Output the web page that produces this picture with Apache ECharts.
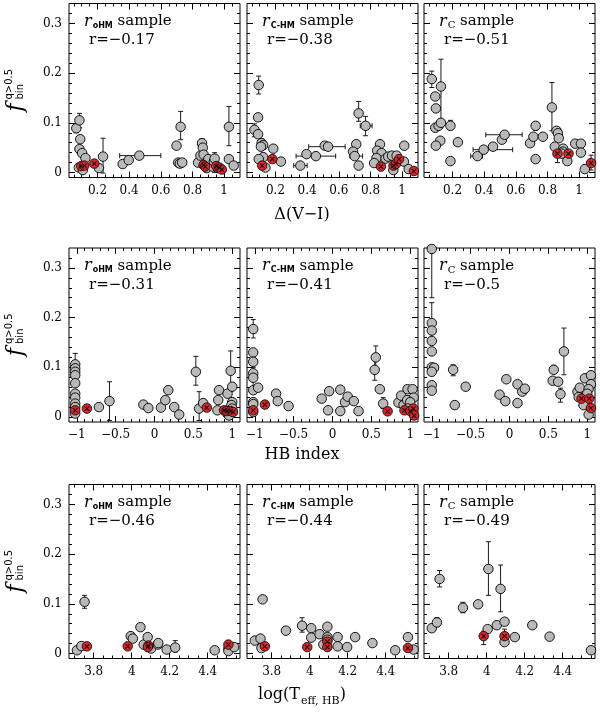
<!DOCTYPE html>
<html><head><meta charset="utf-8">
<script src="https://cdn.jsdelivr.net/npm/echarts/dist/echarts.min.js"></script>
<style>html,body{margin:0;padding:0;background:#fff}#c{width:600px;height:719px}</style>
</head><body><div id="c"></div>
<script>
// ---------- tick labels ----------
const yTicks = [0, 0.1, 0.2, 0.3];
const xTicksDV = [0.2, 0.4, 0.6, 0.8, 1];
const xTicksHB = [-1, -0.5, 0, 0.5, 1];
const xTicksT = [3.8, 4, 4.2, 4.4];
const sampleSubs = ['oHM', 'C-HM', 'C'];
const rValues = ['−0.17', '−0.38', '−0.51', '−0.31', '−0.41', '−0.5', '−0.46', '−0.44', '−0.49'];
const xTitles = ['Δ(V−I)', 'HB index', 'log(T_eff, HB)'];

// ---------- Row 1 : Delta(V-I) ----------
const gray1 = [[0.066,0.089],[0.086,0.105],[0.091,0.067],[0.086,0.047],[0.103,0.039],[0.124,0.029],[0.082,0.010],[0.107,0.005],[0.209,0.009],[0.235,0.032],[0.359,0.017],[0.397,0.025],[0.464,0.034],[0.699,0.054],[0.725,0.092],[0.71,0.020],[0.72,0.018],[0.735,0.020],[0.835,0.020],[0.85,0.034],[0.86,0.059],[0.865,0.050],[0.87,0.036],[0.90,0.027],[0.89,0.009],[0.925,0.012],[0.935,0.022],[0.96,0.009],[1.03,0.092],[1.03,0.027],[1.06,0.014],[0.94,0.028]];
const red1 = [[0.097,0.013],[0.117,0.014],[0.18,0.018],[0.87,0.015],[0.88,0.012],[0.95,0.013],[0.97,0.010],[0.985,0.006]];
const errY1 = [[0.086,0.105,0.090,0.119],[0.066,0.089,0.080,0.098],[0.235,0.032,-0.001,0.069],[0.725,0.092,0.066,0.123],[0.86,0.059,0.050,0.068],[1.03,0.092,0.054,0.133],[0.94,0.028,0.0,0.040]];
const errX1 = [[0.464,0.034,0.34,0.60],[0.72,0.020,0.69,0.76]];

const gray2 = [[0.094,0.176],[0.090,0.111],[0.067,0.086],[0.09,0.077],[0.112,0.059],[0.122,0.055],[0.108,0.052],[0.186,0.048],[0.122,0.031],[0.094,0.027],[0.136,0.010],[0.234,0.022],[0.357,0.014],[0.396,0.037],[0.455,0.033],[0.511,0.054],[0.532,0.052],[0.725,0.119],[0.769,0.094],[0.71,0.057],[0.69,0.042],[0.70,0.033],[0.725,0.014],[0.86,0.057],[0.842,0.044],[0.87,0.039],[0.838,0.029],[0.823,0.019],[0.895,0.028],[0.912,0.032],[0.936,0.034],[0.965,0.034],[1.013,0.054],[1.011,0.022],[1.041,0.007],[0.944,0.005]];
const red2 = [[0.116,0.014],[0.18,0.027],[0.866,0.012],[0.945,0.014],[0.96,0.017],[0.98,0.027],[1.074,0.003]];
const errY2 = [[0.094,0.176,0.158,0.194],[0.067,0.086,0.072,0.098],[0.112,0.059,0.048,0.068],[0.725,0.119,0.103,0.143],[0.769,0.094,0.074,0.113]];
const errX2 = [[0.357,0.014,0.315,0.40],[0.455,0.033,0.33,0.58],[0.532,0.052,0.41,0.64],[0.769,0.094,0.735,0.81],[0.70,0.033,0.67,0.75]];

const gray3 = [[0.069,0.188],[0.127,0.173],[0.091,0.153],[0.095,0.129],[0.091,0.090],[0.112,0.094],[0.127,0.100],[0.187,0.094],[0.123,0.064],[0.095,0.054],[0.234,0.061],[0.187,0.023],[0.358,0.033],[0.397,0.046],[0.456,0.052],[0.512,0.066],[0.529,0.076],[0.69,0.059],[0.711,0.072],[0.725,0.094],[0.771,0.072],[0.725,0.027],[0.828,0.131],[0.857,0.084],[0.866,0.079],[0.871,0.069],[0.846,0.052],[0.899,0.048],[0.897,0.042],[0.889,0.038],[0.925,0.023],[0.975,0.058],[1.011,0.058],[1.011,0.040],[1.036,0.007]];
const red3 = [[0.863,0.038],[0.933,0.038],[1.075,0.019]];
const errY3 = [[0.069,0.188,0.171,0.204],[0.127,0.173,0.100,0.228],[0.187,0.094,0.086,0.105],[0.725,0.094,0.085,0.102],[0.828,0.131,0.084,0.181],[0.863,0.038,0.020,0.048],[1.075,0.019,0.005,0.035]];
const errX3 = [[0.358,0.033,0.315,0.39],[0.397,0.046,0.33,0.58],[0.529,0.076,0.41,0.64],[0.828,0.131,0.81,0.85]];

// ---------- Row 2 : HB index ----------
const gray4 = [[-1.02,0.106],[-1.02,0.098],[-1.02,0.091],[-1.02,0.084],[-1.02,0.068],[-1.02,0.047],[-1.02,0.039],[-1.02,0.027],[-1.02,0.020],[-1.02,0.007],[-0.715,0.020],[-0.579,0.032],[-0.143,0.025],[-0.079,0.018],[0.083,0.019],[0.139,0.034],[0.177,0.054],[0.254,0.020],[0.318,0.005],[0.532,0.091],[0.574,0.017],[0.626,0.028],[0.81,0.0135],[0.83,0.054],[0.82,0.034],[0.94,0.047],[0.98,0.093],[1.0,0.061],[1.0,0.030],[0.99,0.024],[1.0,0.017],[0.97,0.010],[0.94,0.006],[0.96,0.003]];
const red4 = [[-1.02,0.0135],[-0.87,0.017],[0.673,0.019],[0.895,0.0135],[0.93,0.012],[0.98,0.012],[1.01,0.010]];
const errY4 = [[-1.02,0.106,0.085,0.128],[-0.579,0.032,-0.007,0.071],[0.532,0.091,0.064,0.122],[0.574,0.017,-0.007,0.051],[0.98,0.093,0.051,0.133]];
const errX4 = [];

const gray5 = [[-1.02,0.177],[-1.02,0.130],[-1.02,0.111],[-1.02,0.088],[-1.02,0.079],[-1.02,0.054],[-0.957,0.059],[-1.02,0.030],[-1.02,0.026],[-1.02,0.010],[-0.726,0.047],[-0.704,0.032],[-0.565,0.022],[-0.139,0.037],[-0.043,0.052],[-0.057,0.0135],[0.1,0.055],[0.1,0.012],[0.161,0.030],[0.196,0.041],[0.274,0.032],[0.335,0.012],[0.557,0.120],[0.543,0.095],[0.609,0.056],[0.652,0.027],[0.848,0.029],[0.883,0.043],[0.913,0.024],[0.965,0.056],[1.03,0.056],[1.044,0.039],[0.96,0.034],[1.0,0.030],[0.97,0.017]];
const red5 = [[-1.02,0.0135],[-0.87,0.025],[0.709,0.0115],[0.926,0.0135],[1.0,0.012],[1.04,0.017],[1.05,0.003]];
const errY5 = [[-1.02,0.177,0.159,0.196],[-1.02,0.079,0.060,0.100],[0.557,0.120,0.097,0.143],[0.543,0.095,0.074,0.117],[0.652,0.027,0.017,0.039]];
const errX5 = [];

const gray6 = [[-1.0,0.338],[-1.0,0.189],[-1.0,0.174],[-1.0,0.153],[-1.0,0.132],[-1.0,0.100],[-0.97,0.099],[-1.0,0.091],[-1.0,0.064],[-1.0,0.053],[-0.725,0.095],[-0.704,0.024],[-0.564,0.061],[-0.128,0.045],[-0.041,0.076],[-0.054,0.032],[0.103,0.066],[0.103,0.028],[0.164,0.051],[0.198,0.057],[0.569,0.095],[0.556,0.073],[0.626,0.071],[0.70,0.132],[0.656,0.046],[0.874,0.051],[0.904,0.059],[0.97,0.078],[1.048,0.084],[1.048,0.066],[1.018,0.056],[1.0,0.047],[0.952,0.024],[1.018,0.005],[0.89,0.040]];
const red6 = [[0.926,0.037],[1.026,0.037],[1.048,0.018]];
const errY6 = [[-1.0,0.338,0.240,0.338],[-1.0,0.189,0.150,0.230],[-0.725,0.095,0.083,0.105],[0.569,0.095,0.088,0.104],[0.70,0.132,0.085,0.179],[0.656,0.046,0.030,0.058],[1.048,0.084,0.072,0.092]];
const errX6 = [];

// ---------- Row 3 : log(Teff,HB) ----------
const gray7 = [[3.712,0.0066],[3.735,0.015],[3.752,0.104],[3.995,0.035],[4.006,0.030],[4.046,0.053],[4.063,0.018],[4.084,0.033],[4.102,0.010],[4.137,0.018],[4.140,0.021],[4.184,0.008],[4.229,0.012],[4.437,0.0066],[4.509,0.010],[4.509,0.005],[4.539,0.013]];
const red7 = [[3.764,0.0145],[3.979,0.0145],[4.088,0.016],[4.085,0.013],[4.509,0.018]];
const errY7 = [[3.752,0.104,0.091,0.117],[4.0,0.035,0.028,0.041],[4.229,0.012,0.003,0.026]];
const errX7 = [];

const gray8 = [[3.711,0.026],[3.741,0.030],[3.746,0.011],[3.752,0.109],[3.875,0.046],[3.96,0.056],[4.008,0.051],[4.008,0.032],[4.052,0.039],[4.072,0.018],[4.093,0.054],[4.093,0.033],[4.093,0.028],[4.147,0.033],[4.147,0.0145],[4.197,0.013],[4.239,0.033],[4.33,0.021],[4.45,0.0066],[4.517,0.033],[4.547,0.008]];
const red8 = [[3.764,0.0145],[3.987,0.013],[4.093,0.024],[4.093,0.013],[4.517,0.011]];
const errY8 = [[3.96,0.056,0.043,0.072]];
const errX8 = [];

const gray9 = [[3.711,0.051],[3.738,0.0625],[3.752,0.15],[3.875,0.092],[3.955,0.099],[4.005,0.049],[4.009,0.170],[4.053,0.057],[4.073,0.130],[4.094,0.064],[4.094,0.023],[4.148,0.033],[4.24,0.057],[4.331,0.034],[4.549,0.0066]];
const red9 = [[3.984,0.035],[4.094,0.035]];
const errY9 = [[3.738,0.0625,0.054,0.072],[3.752,0.15,0.134,0.167],[3.875,0.092,0.082,0.103],[3.984,0.035,0.018,0.045],[4.005,0.049,0.043,0.055],[4.009,0.170,0.117,0.225],[4.073,0.130,0.084,0.178],[4.094,0.035,0.026,0.049]];
const errX9 = [];

// ---------- layout ----------
const COL_LEFT = [69, 247, 424];
const ROW_TOP = [3.5, 248, 484.5];
const PW = 171, PH = 174;
const X_RANGES = [[0.02, 1.1], [-1.1, 1.1], [3.67, 4.57]];
const X_MINOR = [0.05, 0.1, 0.05];
const X_MAJOR = [xTicksDV, xTicksHB, xTicksT];
const Y_RANGE = [-0.01, 0.34];
const Y_MINOR = 0.02;
const SERIF = 'DejaVu Serif';

const panels = [
  [gray1, red1, errY1, errX1], [gray2, red2, errY2, errX2], [gray3, red3, errY3, errX3],
  [gray4, red4, errY4, errX4], [gray5, red5, errY5, errX5], [gray6, red6, errY6, errX6],
  [gray7, red7, errY7, errX7], [gray8, red8, errY8, errX8], [gray9, red9, errY9, errX9]
];

function stepVals(mn, mx, step, major) {
  const out = [];
  const k0 = Math.ceil(mn / step - 1e-9), k1 = Math.floor(mx / step + 1e-9);
  for (let k = k0; k <= k1; k++) {
    const v = +(k * step).toFixed(5);
    if (Math.abs(v - mn) < 1e-6 || Math.abs(v - mx) < 1e-6) continue;
    if (major.some(m => Math.abs(m - v) < 1e-6)) continue;
    out.push(v);
  }
  return out;
}
const fmt = v => String(+v.toFixed(3)).replace('-', '−');

const grids = [], xAxes = [], yAxes = [], series = [], graphics = [];

function vErr(params, api) {
  const x = api.value(0), lo = api.value(2), hi = api.value(3);
  const a = api.coord([x, lo]), b = api.coord([x, hi]);
  const c = 2.5, st = {stroke: '#1a1a1a', lineWidth: 1};
  return {type: 'group', children: [
    {type: 'line', shape: {x1: a[0], y1: a[1], x2: b[0], y2: b[1]}, style: st},
    {type: 'line', shape: {x1: a[0] - c, y1: a[1], x2: a[0] + c, y2: a[1]}, style: st},
    {type: 'line', shape: {x1: b[0] - c, y1: b[1], x2: b[0] + c, y2: b[1]}, style: st}
  ]};
}
function hErr(params, api) {
  const y = api.value(1), lo = api.value(2), hi = api.value(3);
  const a = api.coord([lo, y]), b = api.coord([hi, y]);
  const c = 2.5, st = {stroke: '#1a1a1a', lineWidth: 1};
  return {type: 'group', children: [
    {type: 'line', shape: {x1: a[0], y1: a[1], x2: b[0], y2: b[1]}, style: st},
    {type: 'line', shape: {x1: a[0], y1: a[1] - c, x2: a[0], y2: a[1] + c}, style: st},
    {type: 'line', shape: {x1: b[0], y1: b[1] - c, x2: b[0], y2: b[1] + c}, style: st}
  ]};
}

const tickStyle = {color: '#000', width: 1};
const noLine = {show: false, onZero: false};
for (let r = 0; r < 3; r++) {
  for (let c = 0; c < 3; c++) {
    const g = r * 3 + c;
    grids.push({left: COL_LEFT[c], top: ROW_TOP[r], width: PW, height: PH, show: true,
      borderColor: '#000', borderWidth: 1, backgroundColor: 'rgba(0,0,0,0)'});
    const [mn, mx] = X_RANGES[r];
    const xMaj = X_MAJOR[r];
    const xMin = stepVals(mn, mx, X_MINOR[r], xMaj);
    const xb = {type: 'value', gridIndex: g, min: mn, max: mx, axisLine: noLine, splitLine: {show: false}};
    xAxes.push(
      Object.assign({}, xb, {position: 'bottom', axisTick: {show: true, inside: true, length: 6, customValues: xMaj, lineStyle: tickStyle},
        axisLabel: {show: true, customValues: xMaj, margin: 7, fontFamily: SERIF, fontSize: 12, color: '#000', formatter: fmt}}),
      Object.assign({}, xb, {position: 'bottom', axisTick: {show: true, inside: true, length: 3, customValues: xMin, lineStyle: tickStyle}, axisLabel: {show: false}}),
      Object.assign({}, xb, {position: 'top', axisTick: {show: true, inside: true, length: 6, customValues: xMaj, lineStyle: tickStyle}, axisLabel: {show: false}}),
      Object.assign({}, xb, {position: 'top', axisTick: {show: true, inside: true, length: 3, customValues: xMin, lineStyle: tickStyle}, axisLabel: {show: false}})
    );
    const yMin = stepVals(Y_RANGE[0], Y_RANGE[1], Y_MINOR, yTicks);
    const yb = {type: 'value', gridIndex: g, min: Y_RANGE[0], max: Y_RANGE[1], axisLine: noLine, splitLine: {show: false}};
    yAxes.push(
      Object.assign({}, yb, {position: 'left', axisTick: {show: true, inside: true, length: 6, customValues: yTicks, lineStyle: tickStyle},
        axisLabel: {show: c === 0, customValues: yTicks, margin: 7, fontFamily: SERIF, fontSize: 12, color: '#000', formatter: fmt}}),
      Object.assign({}, yb, {position: 'left', axisTick: {show: true, inside: true, length: 3, customValues: yMin, lineStyle: tickStyle}, axisLabel: {show: false}}),
      Object.assign({}, yb, {position: 'right', axisTick: {show: true, inside: true, length: 6, customValues: yTicks, lineStyle: tickStyle}, axisLabel: {show: false}}),
      Object.assign({}, yb, {position: 'right', axisTick: {show: true, inside: true, length: 3, customValues: yMin, lineStyle: tickStyle}, axisLabel: {show: false}})
    );
    const [gray, red, eY, eX] = panels[g];
    const ax = {xAxisIndex: g * 4, yAxisIndex: g * 4};
    series.push(
      Object.assign({type: 'custom', data: eY, renderItem: vErr, z: 2, silent: true}, ax),
      Object.assign({type: 'custom', data: eX, renderItem: hErr, z: 2, silent: true}, ax),
      Object.assign({type: 'scatter', data: gray, symbolSize: 9.5, z: 3, silent: true,
        itemStyle: {color: '#b9b9b9', borderColor: '#000', borderWidth: 0.9, opacity: 1}}, ax),
      Object.assign({type: 'scatter', data: red, symbolSize: 9.5, z: 4, silent: true,
        itemStyle: {color: '#e2232a', borderColor: '#111', borderWidth: 0.9, opacity: 1}}, ax),
      Object.assign({type: 'scatter', data: red, symbol: 'path://M0 0L10 10M10 0L0 10', symbolSize: 4.5, z: 5, silent: true,
        itemStyle: {color: 'rgba(0,0,0,0)', borderColor: '#111', borderWidth: 1.1, opacity: 1}}, ax)
    );
    // panel annotation
    const isC = c === 2;
    graphics.push({type: 'text', x: COL_LEFT[c] + 15, y: ROW_TOP[r] + 8, z: 100, style: {
      text: '{it|r}{sub|' + sampleSubs[c] + '}{n| sample}',
      rich: {
        it: {fontFamily: SERIF, fontStyle: 'italic', fontSize: 16, lineHeight: 20, fill: '#000'},
        sub: {fontFamily: isC ? SERIF : 'DejaVu Sans', fontSize: isC ? 10 : 8, fontWeight: isC ? 'normal' : 'bold', lineHeight: isC ? 10 : 8, padding: [isC ? 9 : 10, 0, 0, 1], verticalAlign: 'top', fill: '#000'},
        n: {fontFamily: SERIF, fontSize: 15, lineHeight: 20, fill: '#000'}
      }}});
    graphics.push({type: 'text', x: COL_LEFT[c] + 20, y: ROW_TOP[r] + 29.5, z: 100, style: {
      text: 'r=' + rValues[g], font: '15px ' + SERIF, fill: '#000'}});
  }
  // y-axis title (rotated)
  graphics.push({type: 'group', x: 16, y: ROW_TOP[r] + 86, rotation: Math.PI / 2, children: [
    {type: 'text', x: -22, y: 0, style: {text: 'f', font: 'italic 22px ' + SERIF, verticalAlign: 'middle', align: 'left', fill: '#000'}},
    {type: 'text', x: -10, y: -7, style: {text: 'q>0.5', font: '10px DejaVu Sans', verticalAlign: 'middle', align: 'left', fill: '#000'}},
    {type: 'text', x: -10, y: 4, style: {text: 'bin', font: '10px DejaVu Sans', verticalAlign: 'middle', align: 'left', fill: '#000'}}
  ]});
}
// x-axis titles
graphics.push({type: 'text', x: 302, y: 215, style: {text: xTitles[0], font: '16px ' + SERIF, align: 'center', verticalAlign: 'middle', fill: '#000'}});
graphics.push({type: 'text', x: 302, y: 455, style: {text: xTitles[1], font: '16px ' + SERIF, align: 'center', verticalAlign: 'middle', fill: '#000'}});
const tParts = xTitles[2].match(/^(.*)_(.*)\)$/);
graphics.push({type: 'text', x: 302, y: 695, style: {
  text: '{n|' + tParts[1] + '}{sub|' + tParts[2] + '}{n|)}',
  rich: {
    n: {fontFamily: SERIF, fontSize: 16, lineHeight: 20, fill: '#000'},
    sub: {fontFamily: SERIF, fontSize: 11, lineHeight: 11, padding: [11, 0, 0, 1], verticalAlign: 'top', fill: '#000'}
  }, align: 'center', verticalAlign: 'middle'}});

const chart = echarts.init(document.getElementById('c'), null, {renderer: 'canvas'});
chart.setOption({
  animation: false,
  backgroundColor: '#fff',
  grid: grids, xAxis: xAxes, yAxis: yAxes, series: series, graphic: graphics
});
</script></body></html>
